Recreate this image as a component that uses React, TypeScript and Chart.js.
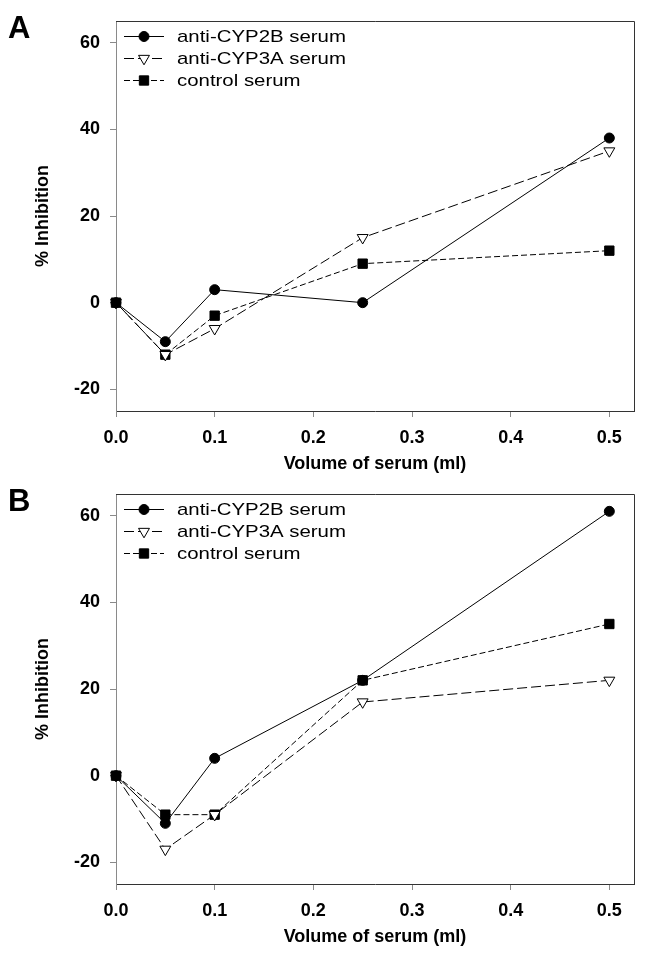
import React, { useEffect, useRef } from 'react';
import { Chart, registerables } from 'chart.js';

Chart.register(...registerables);

// ---- data ----
const xValues = [0, 0.05, 0.1, 0.25, 0.5];
const seriesNames = ['anti-CYP2B serum', 'anti-CYP3A serum', 'control serum'];
const panelA_cyp2b = [0, -9, 3, 0, 38];
const panelA_cyp3a = [0, -12, -6, 15, 35];
const panelA_control = [0, -12, -3, 9, 12];
const panelB_cyp2b = [0, -11, 4, 22, 61];
const panelB_cyp3a = [0, -17, -9, 17, 22];
const panelB_control = [0, -9, -9, 22, 35];
const xTicks = [0, 0.1, 0.2, 0.3, 0.4, 0.5];
const yTicks = [-20, 0, 20, 40, 60];
const xTitle = 'Volume of serum (ml)';
const yTitle = '% Inhibition';

const FONT = '"Liberation Sans", Arial, sans-serif';

type SeriesStyle = {
  dash: number[];
  pointStyle: string;
  radius: number;
  rotation: number;
  fill: string;
};

const styles: SeriesStyle[] = [
  { dash: [], pointStyle: 'circle', radius: 5, rotation: 0, fill: '#000' },
  { dash: [10, 4], pointStyle: 'triangle', radius: 6.3, rotation: 180, fill: '#fff' },
  { dash: [6, 3], pointStyle: 'rect', radius: 6.6, rotation: 0, fill: '#000' },
];

function drawMarker(ctx: CanvasRenderingContext2D, s: SeriesStyle, x: number, y: number) {
  ctx.save();
  ctx.setLineDash([]);
  ctx.lineWidth = 1;
  ctx.strokeStyle = '#000';
  ctx.fillStyle = s.fill;
  ctx.beginPath();
  if (s.pointStyle === 'circle') {
    ctx.arc(x, y, s.radius, 0, Math.PI * 2);
  } else if (s.pointStyle === 'rect') {
    const h = s.radius * Math.SQRT1_2;
    ctx.rect(x - h, y - h, 2 * h, 2 * h);
  } else {
    const r = s.radius;
    ctx.moveTo(x, y + r);
    ctx.lineTo(x - r * Math.sin(Math.PI / 3), y - r / 2);
    ctx.lineTo(x + r * Math.sin(Math.PI / 3), y - r / 2);
    ctx.closePath();
  }
  ctx.fill();
  ctx.stroke();
  ctx.restore();
}

const legendRows = [36, 58, 80];

function makePlugin(letter: string) {
  return {
    id: 'panelDecor' + letter,
    beforeDatasetsDraw(chart: any) {
      const { ctx, chartArea } = chart;
      ctx.save();
      ctx.strokeStyle = '#333';
      ctx.lineWidth = 1;
      ctx.beginPath();
      ctx.moveTo(chartArea.left, chartArea.top + 0.5);
      ctx.lineTo(chartArea.right + 0.5, chartArea.top + 0.5);
      ctx.lineTo(chartArea.right + 0.5, chartArea.bottom);
      ctx.stroke();
      ctx.restore();
    },
    afterDraw(chart: any) {
      const { ctx } = chart;
      ctx.save();
      // panel letter
      ctx.fillStyle = '#000';
      ctx.font = `bold 31px ${FONT}`;
      ctx.textBaseline = 'alphabetic';
      ctx.fillText(letter, 8, 38);
      // legend
      chart.data.datasets.forEach((ds: any, i: number) => {
        const s = styles[i];
        const y = legendRows[i];
        ctx.save();
        ctx.strokeStyle = '#000';
        ctx.lineWidth = 1;
        ctx.setLineDash(s.dash);
        ctx.beginPath();
        ctx.moveTo(124, y + 0.5);
        ctx.lineTo(164, y + 0.5);
        ctx.stroke();
        ctx.restore();
        drawMarker(ctx, s, 144, y + 0.5);
        ctx.save();
        ctx.translate(177, y + 6);
        ctx.scale(1.2, 1);
        ctx.font = `17px ${FONT}`;
        ctx.fillStyle = '#000';
        ctx.fillText(ds.label, 0, 0);
        ctx.restore();
      });
      ctx.restore();
    },
  };
}

function Panel({ letter, values }: { letter: string; values: number[][] }) {
  const ref = useRef<HTMLCanvasElement>(null);
  useEffect(() => {
    const chart = new Chart(ref.current as HTMLCanvasElement, {
      type: 'line',
      data: {
        datasets: values.map((vals, i) => ({
          label: seriesNames[i],
          data: xValues.map((x, j) => ({ x, y: vals[j] })),
          borderColor: '#000',
          borderWidth: 1,
          borderDash: styles[i].dash,
          pointStyle: styles[i].pointStyle as any,
          pointRadius: styles[i].radius,
          pointRotation: styles[i].rotation,
          pointBackgroundColor: styles[i].fill,
          pointBorderColor: '#000',
          pointBorderWidth: 1,
          tension: 0,
          fill: false,
          clip: false as any,
        })),
      },
      options: {
        animation: false,
        responsive: true,
        maintainAspectRatio: false,
        events: [],
        layout: { padding: { left: 0, top: 21, right: 15, bottom: 0 } },
        plugins: { legend: { display: false }, tooltip: { enabled: false } },
        scales: {
          x: {
            type: 'linear',
            min: 0,
            max: 0.525,
            afterBuildTicks: (s: any) => {
              s.ticks = xTicks.map((v) => ({ value: v }));
            },
            afterFit: (s: any) => {
              s.height = 62;
              s.paddingLeft = 0;
              s.paddingRight = 0;
            },
            grid: { drawOnChartArea: false, drawTicks: true, tickLength: 6, color: '#8a8a8a' },
            border: { display: true, color: '#333', width: 1 },
            ticks: {
              color: '#000',
              font: { family: FONT, size: 18, weight: 'bold' },
              padding: 10,
              maxRotation: 0,
              autoSkip: false,
              callback: (v: any) => Number(v).toFixed(1),
            },
            title: {
              display: true,
              text: xTitle,
              color: '#000',
              font: { family: FONT, size: 18, weight: 'bold', lineHeight: 1 },
              padding: { top: 0, bottom: 0 },
            },
          },
          y: {
            type: 'linear',
            min: -25,
            max: 65,
            afterBuildTicks: (s: any) => {
              s.ticks = yTicks.map((v) => ({ value: v }));
            },
            afterFit: (s: any) => {
              s.width = 116;
              s.paddingTop = 0;
              s.paddingBottom = 0;
            },
            grid: { drawOnChartArea: false, drawTicks: true, tickLength: 6, color: '#8a8a8a' },
            border: { display: true, color: '#8a8a8a', width: 1 },
            ticks: {
              color: '#000',
              font: { family: FONT, size: 18, weight: 'bold' },
              padding: 10,
              autoSkip: false,
              callback: (v: any) => String(v),
            },
            title: {
              display: true,
              text: yTitle,
              color: '#000',
              font: { family: FONT, size: 18, weight: 'bold' },
              padding: { top: 32, bottom: 0 },
            },
          },
        },
      },
      plugins: [makePlugin(letter)],
    } as any);
    return () => chart.destroy();
  }, []);
  return (
    <div style={{ position: 'relative', width: 649, height: 473 }}>
      <canvas ref={ref} />
    </div>
  );
}

export default function App() {
  return (
    <div style={{ position: 'absolute', left: 0, top: 0, width: 649, height: 957, background: '#fff' }}>
      <Panel letter="A" values={[panelA_cyp2b, panelA_cyp3a, panelA_control]} />
      <Panel letter="B" values={[panelB_cyp2b, panelB_cyp3a, panelB_control]} />
    </div>
  );
}
